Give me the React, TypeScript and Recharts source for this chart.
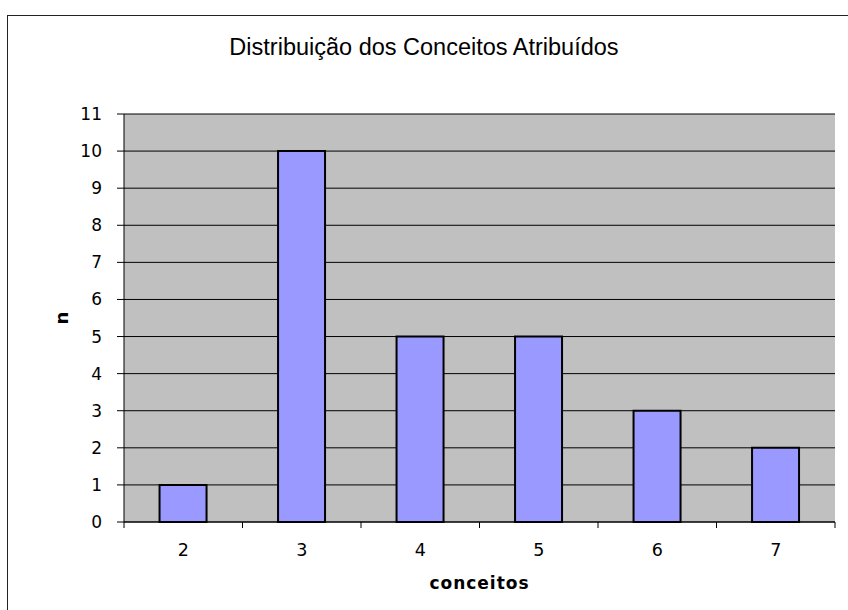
import { BarChart, Bar, XAxis, YAxis, CartesianGrid } from 'recharts';

const categories = ['2', '3', '4', '5', '6', '7'];
const counts = [1, 10, 5, 5, 3, 2];
const yTicks = [0, 1, 2, 3, 4, 5, 6, 7, 8, 9, 10, 11];

const data = categories.map((c, i) => ({ conceito: c, n: counts[i] }));

const W = 848;
const H = 610;
const LEFT = 124;
const RIGHT = 13;
const TOP = 114;
const BOTTOM = 88;
const halfBand = (W - LEFT - RIGHT) / categories.length / 2;

const font = '"Liberation Sans", Arial, sans-serif';
const wideFont = '"DejaVu Sans", Verdana, sans-serif';

// category label in the middle, tick marks on the band edges like the original
const XTick = (props: any) => {
  const { x, y, payload, index } = props;
  const last = index === categories.length - 1;
  return (
    <g>
      <line x1={x - halfBand} x2={x - halfBand} y1={y - 6} y2={y} stroke="#000" />
      {last && <line x1={x + halfBand} x2={x + halfBand} y1={y - 6} y2={y} stroke="#000" />}
      <text x={x} y={y} dy={28} textAnchor="middle" fontSize={17.5} fill="#000" fontFamily={wideFont}>
        {payload.value}
      </text>
    </g>
  );
};

const YTick = (props: any) => {
  const { x, y, payload } = props;
  return (
    <text x={x} y={y} dy={6} textAnchor="end" fontSize={17} fill="#000" fontFamily={wideFont}>
      {payload.value}
    </text>
  );
};

export default function App() {
  return (
    <div style={{ position: 'absolute', left: 0, top: 0, width: W, height: H, overflow: 'hidden', background: '#fff' }}>
      <div
        style={{
          position: 'absolute',
          left: 7,
          top: 15,
          width: 900,
          height: 700,
          border: '1px solid #222',
        }}
      />
      <div
        style={{
          position: 'absolute',
          top: 34,
          left: 0,
          width: W,
          textAlign: 'center',
          fontFamily: font,
          fontSize: 23.5,
          color: '#000',
        }}
      >
        Distribuição dos Conceitos Atribuídos
      </div>
      <div style={{ position: 'absolute', left: 0, top: 0 }}>
        <BarChart
          width={W}
          height={H}
          data={data}
          margin={{ top: TOP, right: RIGHT, left: 0, bottom: 0 }}
          barCategoryGap="30%"
        >
          <CartesianGrid vertical={false} fill="#C0C0C0" stroke="#000" fillOpacity={1} />
          <XAxis
            dataKey="conceito"
            height={BOTTOM}
            tickSize={6}
            tickMargin={0}
            tickLine={false}
            axisLine={{ stroke: '#000' }}
            tick={<XTick />}
            interval={0}
            label={{ value: 'conceitos', position: 'center', dy: 17, fontSize: 17, letterSpacing: 1, fontWeight: 'bold', fill: '#000', fontFamily: wideFont }}
          />
          <XAxis xAxisId="top" orientation="top" dataKey="conceito" height={0} tick={false} tickLine={false} axisLine={{ stroke: '#808080' }} />
          <YAxis
            domain={[0, 11]}
            ticks={yTicks}
            interval={0}
            width={LEFT}
            tickSize={7}
            tickMargin={15}
            tickLine={{ stroke: '#000' }}
            axisLine={{ stroke: '#000' }}
            tick={<YTick />}
            label={{ value: 'n', angle: -90, position: 'center', fontSize: 18, fontWeight: 'bold', fill: '#000', fontFamily: wideFont }}
          />
          <YAxis yAxisId="right" orientation="right" domain={[0, 11]} width={0} tick={false} tickLine={false} axisLine={{ stroke: '#808080' }} />
          <Bar dataKey="n" fill="#9999FF" stroke="#000" strokeWidth={2} isAnimationActive={false} />
        </BarChart>
      </div>
    </div>
  );
}
